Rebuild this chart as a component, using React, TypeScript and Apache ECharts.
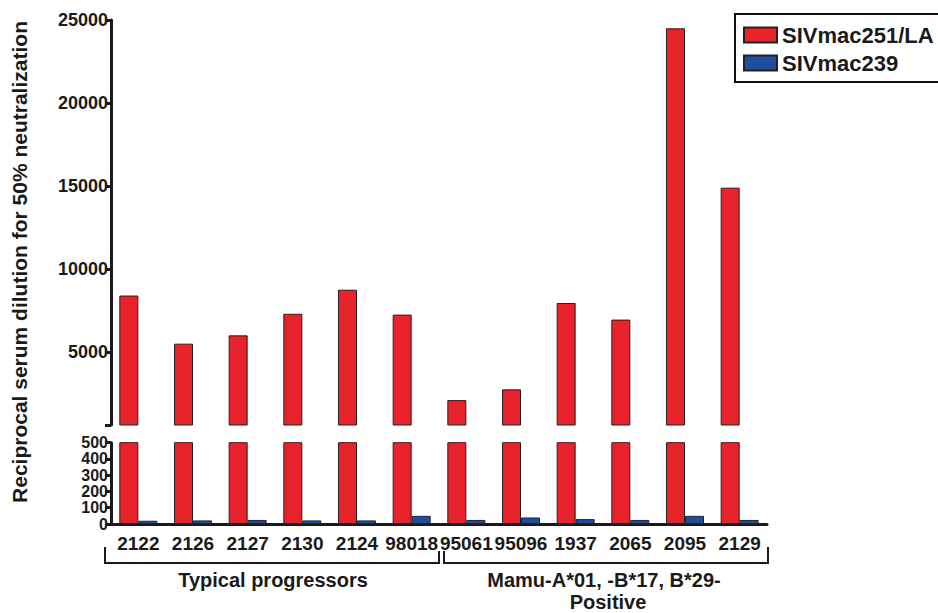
import React, { useEffect, useRef } from "react";
import * as echarts from "echarts";

const categories = ["2122", "2126", "2127", "2130", "2124", "98018", "95061", "95096", "1937", "2065", "2095", "2129"];
const siv251LA = [8400, 5500, 6000, 7300, 8750, 7250, 2100, 2750, 7950, 6950, 24500, 14900];
const siv239 = [20, 22, 25, 22, 22, 50, 25, 40, 30, 25, 50, 25];
const upperLabelTicks = [5000, 10000, 15000, 20000, 25000];
const upperTicks = [600, 5000, 10000, 15000, 20000, 25000];
const lowerTicks = [0, 100, 200, 300, 400, 500];
const groupLabels = ["Typical progressors", "Mamu-A*01, -B*17, B*29-", "Positive"];
const seriesNames = ["SIVmac251/LA", "SIVmac239"];

const FONT = "'Liberation Sans', Arial, Helvetica, sans-serif";
const INK = "#1a1a1a";
const RED = "#e8232b";
const BLUE = "#1f4e9e";

export default function App() {
  const ref = useRef<HTMLDivElement>(null);
  useEffect(() => {
    if (!ref.current) return;
    const chart = echarts.init(ref.current, undefined, { renderer: "svg" });
    const barCommon = {
      type: "bar",
      barWidth: 19,
      barGap: "0%",
      clip: true,
    };
    const redStyle = { color: RED, borderColor: "#222", borderWidth: 1 };
    const blueStyle = { color: BLUE, borderColor: "#222", borderWidth: 1 };
    const axisLineStyle = { color: INK, width: 3 };
    const plain = (v: number) => String(v);
    chart.setOption({
      animation: false,
      backgroundColor: "#ffffff",
      textStyle: { fontFamily: FONT },
      grid: [
        { left: 111, width: 656, top: 20, height: 405 },
        { left: 111, width: 656, top: 442.7, height: 81.3 },
      ],
      xAxis: [
        {
          type: "category",
          gridIndex: 0,
          data: categories,
          show: false,
        },
        {
          type: "category",
          gridIndex: 1,
          data: categories,
          axisLine: { lineStyle: axisLineStyle },
          axisTick: { show: false },
          axisLabel: {
            color: INK,
            fontFamily: FONT,
            fontWeight: "bold",
            fontSize: 19,
            margin: 10,
            interval: 0,
          },
        },
      ],
      yAxis: [
        {
          type: "value",
          gridIndex: 0,
          min: 600,
          max: 25000,
          splitLine: { show: false },
          axisLine: { show: true, lineStyle: axisLineStyle },
          axisTick: { show: true, length: 6, lineStyle: { color: INK, width: 3 }, customValues: upperTicks },
          axisLabel: {
            color: INK,
            fontFamily: FONT,
            fontWeight: "bold",
            fontSize: 18,
            margin: 3,
            formatter: plain,
            customValues: upperLabelTicks,
          },
        },
        {
          type: "value",
          gridIndex: 1,
          min: 0,
          max: 500,
          interval: 100,
          splitLine: { show: false },
          axisLine: { show: true, lineStyle: axisLineStyle },
          axisTick: { show: true, length: 6, lineStyle: { color: INK, width: 3 } },
          axisLabel: {
            color: INK,
            fontFamily: FONT,
            fontWeight: "bold",
            fontSize: 16,
            lineHeight: 14,
            margin: 3,
            formatter: plain,
            customValues: lowerTicks,
            showMinLabel: true,
            showMaxLabel: true,
            hideOverlap: false,
          },
        },
      ],
      legend: {
        left: 735,
        top: 14,
        orient: "vertical",
        data: seriesNames,
        icon: "rect",
        itemWidth: 33,
        itemHeight: 15,
        itemGap: 6,
        padding: [10, 60, 8, 8],
        borderColor: "#111",
        borderWidth: 2,
        textStyle: { color: INK, fontFamily: FONT, fontWeight: "bold", fontSize: 22 },
      },
      series: [
        { ...barCommon, name: seriesNames[0], xAxisIndex: 0, yAxisIndex: 0, data: siv251LA, itemStyle: redStyle },
        { ...barCommon, name: seriesNames[1], xAxisIndex: 0, yAxisIndex: 0, data: siv239, itemStyle: blueStyle },
        { ...barCommon, name: seriesNames[0], xAxisIndex: 1, yAxisIndex: 1, data: siv251LA, itemStyle: redStyle },
        { ...barCommon, name: seriesNames[1], xAxisIndex: 1, yAxisIndex: 1, data: siv239, itemStyle: blueStyle },
      ],
      graphic: [
        {
          type: "text",
          x: 19,
          y: 262,
          rotation: Math.PI / 2,
          style: {
            text: "Reciprocal serum dilution for 50% neutralization",
            fill: INK,
            font: `bold 21px ${FONT}`,
            textAlign: "center",
            textVerticalAlign: "middle",
          },
        },
        { type: "polyline", shape: { points: [[105, 547], [105, 563], [439, 563], [439, 551]] }, style: { stroke: INK, lineWidth: 2, fill: null } },
        { type: "polyline", shape: { points: [[444, 551], [444, 563], [768, 563], [768, 547]] }, style: { stroke: INK, lineWidth: 2, fill: null } },
        {
          type: "text",
          x: 273,
          y: 580,
          style: { text: groupLabels[0], fill: INK, font: `bold 20px ${FONT}`, textAlign: "center", textVerticalAlign: "middle" },
        },
        {
          type: "text",
          x: 604,
          y: 580,
          style: { text: groupLabels[1], fill: INK, font: `bold 20px ${FONT}`, textAlign: "center", textVerticalAlign: "middle" },
        },
        {
          type: "text",
          x: 608,
          y: 602,
          style: { text: groupLabels[2], fill: INK, font: `bold 20px ${FONT}`, textAlign: "center", textVerticalAlign: "middle" },
        },
      ],
    });
    return () => chart.dispose();
  }, []);
  return (
    <div
      ref={ref}
      style={{ position: "absolute", left: 0, top: 0, width: 938, height: 613, background: "#fff" }}
    />
  );
}
